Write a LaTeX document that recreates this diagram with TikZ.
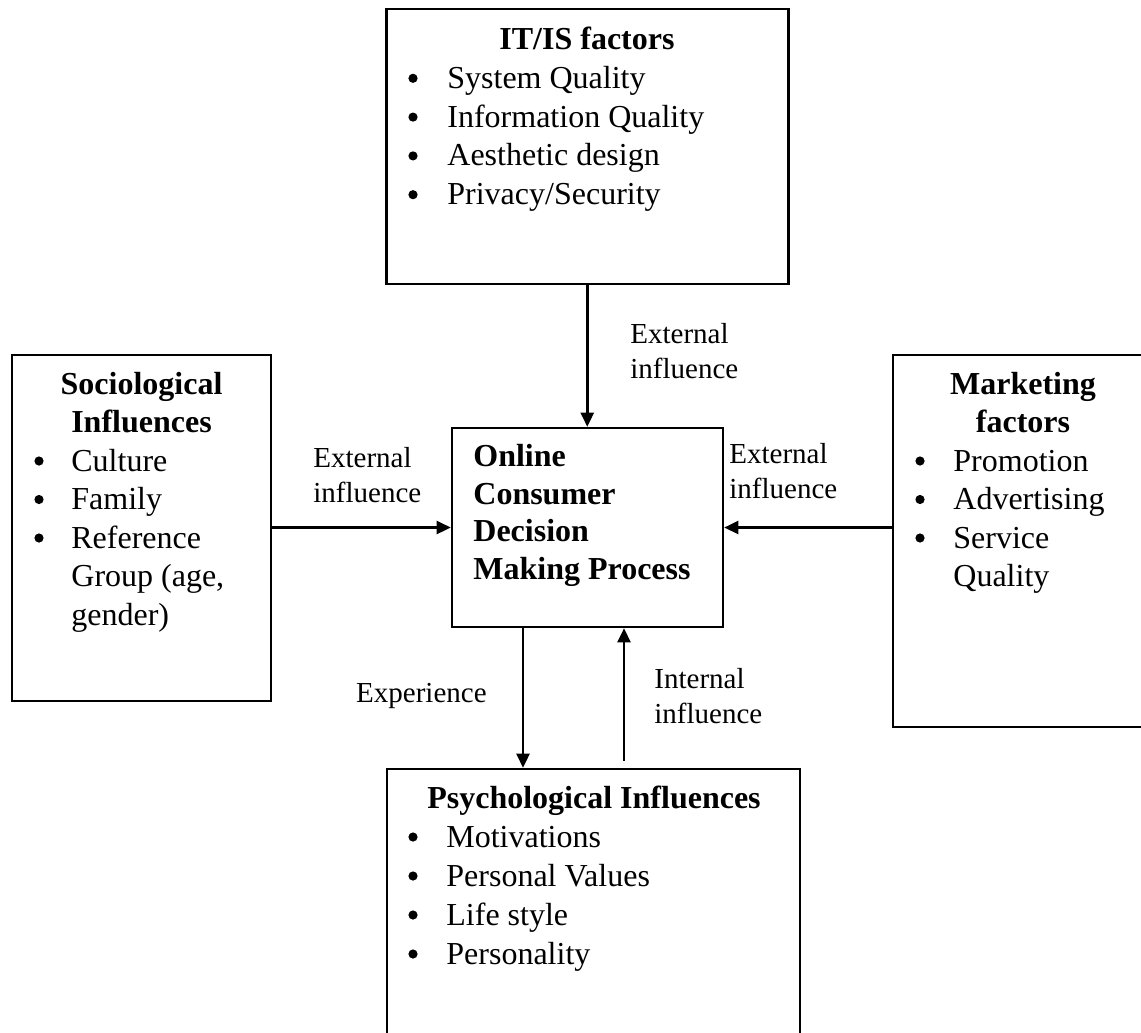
\documentclass[tikz,border=0pt]{standalone}
\usepackage{fontspec}
\setmainfont{Liberation Serif}
\usetikzlibrary{arrows.meta,calc}

\begin{document}
\begin{tikzpicture}[x=0.5pt,y=-0.5pt,
  frame/.style={draw, line width=1.3pt, rectangle, inner sep=0pt},
  body/.style={inner sep=0pt, font=\fontsize{16}{19}\selectfont},
  head/.style={inner sep=0pt, font=\fontsize{16}{19}\selectfont\bfseries},
  lab/.style={inner sep=0pt, font=\fontsize{14.5}{17}\selectfont},
  dot/.style={circle, fill, draw=none, inner sep=0pt, minimum size=4.6pt},
  itm/.style={body, anchor=base west},
  arr/.style={line width=1.3pt, -{Triangle[length=7pt,width=6.5pt]}}]

\useasboundingbox (0,0) rectangle (1141,1033);
\clip (0,0) rectangle (1141,1033);

% frames
\node[frame, minimum width=201pt, minimum height=137.5pt] (itis) at (587.25,146.5) {};
\node[frame, minimum width=129.5pt, minimum height=173pt] (soc) at (141.5,528) {};
\node[frame, minimum width=130pt, minimum height=186pt] (mkt) at (1023,541) {};
\node[frame, minimum width=135.5pt, minimum height=99.5pt] (odm) at (587.5,527.5) {};
\node[frame, minimum width=206.5pt, minimum height=145.5pt] (psy) at (593.5,914.5) {};

% IT/IS factors
\node[head, anchor=base] (itisT) at (587,49.5) {IT/IS factors};
\node[dot] (itisB1) at (413,78.3) {};
\node[itm] (itisI1) at (447,88.3) {System Quality};
\node[dot] (itisB2) at (413,117.1) {};
\node[itm] (itisI2) at (447,127.1) {Information Quality};
\node[dot] (itisB3) at (413,155.9) {};
\node[itm] (itisI3) at (447,165.9) {Aesthetic design};
\node[dot] (itisB4) at (413,194.7) {};
\node[itm] (itisI4) at (447,204.7) {Privacy/Security};

% Sociological influences
\node[head, anchor=base] (socT1) at (141.5,394) {Sociological};
\node[head, anchor=base] (socT2) at (141.5,432.5) {Influences};
\node[dot] (socB1) at (39,461) {};
\node[itm] (socI1) at (71,471) {Culture};
\node[dot] (socB2) at (39,499.5) {};
\node[itm] (socI2) at (71,509.5) {Family};
\node[dot] (socB3) at (39,538) {};
\node[itm] (socI3) at (71,548) {Reference};
\node[itm] (socI4) at (71,586.5) {Group (age,};
\node[itm] (socI5) at (71,625) {gender)};

% Marketing factors
\node[head, anchor=base] (mktT1) at (1023,394) {Marketing};
\node[head, anchor=base] (mktT2) at (1023,432.5) {factors};
\node[dot] (mktB1) at (920,461) {};
\node[itm] (mktI1) at (953,471) {Promotion};
\node[dot] (mktB2) at (920,499.5) {};
\node[itm] (mktI2) at (953,509.5) {Advertising};
\node[dot] (mktB3) at (920,538) {};
\node[itm] (mktI3) at (953,548) {Service};
\node[itm] (mktI4) at (953,586.5) {Quality};

% central process
\node[head, anchor=base west] (odm1) at (473,466.5) {Online};
\node[head, anchor=base west] (odm2) at (473,504.2) {Consumer};
\node[head, anchor=base west] (odm3) at (473,541.9) {Decision};
\node[head, anchor=base west] (odm4) at (473,579.6) {Making Process};

% Psychological influences
\node[head, anchor=base] (psyT) at (594,808) {Psychological Influences};
\node[dot] (psyB1) at (413,837) {};
\node[itm] (psyI1) at (446,847) {Motivations};
\node[dot] (psyB2) at (413,876) {};
\node[itm] (psyI2) at (446,886) {Personal Values};
\node[dot] (psyB3) at (413,915) {};
\node[itm] (psyI3) at (446,925) {Life style};
\node[dot] (psyB4) at (413,954) {};
\node[itm] (psyI4) at (446,964) {Personality};

% connector labels
\node[lab, anchor=base west] (topL1) at (630,343) {External};
\node[lab, anchor=base west] (topL2) at (630,378) {influence};
\node[lab, anchor=base west] (lftL1) at (313,467) {External};
\node[lab, anchor=base west] (lftL2) at (313,502) {influence};
\node[lab, anchor=base west] (rgtL1) at (729,463) {External};
\node[lab, anchor=base west] (rgtL2) at (729,498) {influence};
\node[lab, anchor=base east] (expL) at (487,702) {Experience};
\node[lab, anchor=base west] (intL1) at (654,688) {Internal};
\node[lab, anchor=base west] (intL2) at (654,723) {influence};

% connectors
\coordinate (expS) at ($(odm.south)+(-64.5,0)$);
\coordinate (intS) at ($(odm.south)+(36.5,0)$);
\path (intS |- psy.north) ++(0,-7) coordinate (intB);

\draw[arr] (itis.south) -- (odm.north -| itis.south);
\draw[arr] (soc.east |- odm.west) -- (odm.west);
\draw[arr] (mkt.west |- odm.east) -- (odm.east);
\draw[arr] (expS) -- (expS |- psy.north);
\draw[arr] (intB) -- (intS);
\end{tikzpicture}
\end{document}
